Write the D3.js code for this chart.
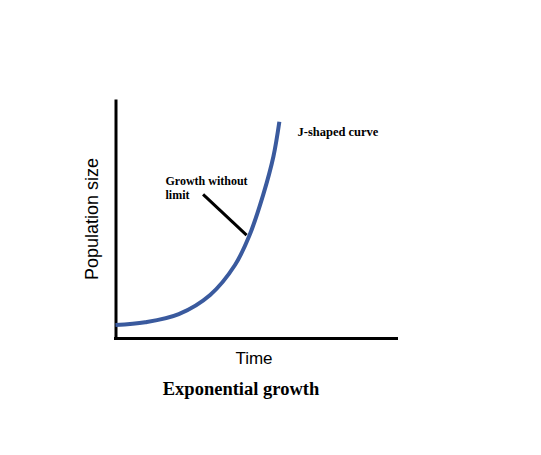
<!DOCTYPE html>
<html>
<head>
<meta charset="utf-8">
<script src="https://cdn.jsdelivr.net/npm/d3@7"></script>
<style>
  body { margin: 0; background: #fff; }
</style>
</head>
<body>
<div id="chart"></div>
<script>
// values (time and population in arbitrary units, 0-100)
const time = [0, 10.5, 22.4, 33.5, 42.3, 47.4, 52.3, 55.9, 58.0]
const population = [5.6, 6.8, 10.2, 18.2, 30.7, 43.0, 60.1, 76.0, 90.5]
// pointer from the label to the curve
const pointerTime = [31.0, 46.4]
const pointerPopulation = [60.2, 43.2]

const width = 541
const height = 455

const svg = d3.select("#chart").append("svg")
  .attr("width", width)
  .attr("height", height)

svg.append("rect")
  .attr("width", width)
  .attr("height", height)
  .attr("fill", "#fff")

const x = d3.scaleLinear().domain([0, 100]).range([115.5, 398])
const y = d3.scaleLinear().domain([0, 100]).range([338.5, 99])

// axes without ticks, only the thick domain lines
const xAxis = svg.append("g")
  .attr("transform", "translate(0," + y(0) + ")")
  .call(d3.axisBottom(x).tickValues([]).tickSizeOuter(0))
xAxis.select(".domain")
  .attr("stroke", "#000")
  .attr("stroke-width", 3)
  .attr("d", "M" + (x(0) - 1.5) + ",0H" + x(100))

const yAxis = svg.append("g")
  .attr("transform", "translate(" + x(0) + ",0)")
  .call(d3.axisLeft(y).tickValues([]).tickSizeOuter(0))
yAxis.select(".domain")
  .attr("stroke", "#000")
  .attr("stroke-width", 3)

const points = time.map((t, i) => [t, population[i]])

const line = d3.line()
  .x(d => x(d[0]))
  .y(d => y(d[1]))
  .curve(d3.curveCatmullRom)

svg.append("path")
  .datum(points)
  .attr("d", line)
  .attr("fill", "none")
  .attr("stroke", "#3a5a9e")
  .attr("stroke-width", 4)

svg.append("line")
  .attr("x1", x(pointerTime[0]))
  .attr("y1", y(pointerPopulation[0]))
  .attr("x2", x(pointerTime[1]))
  .attr("y2", y(pointerPopulation[1]))
  .attr("stroke", "#000")
  .attr("stroke-width", 3)

const serif = "'Liberation Serif', 'Times New Roman', serif"
const sans = "'Liberation Sans', Arial, sans-serif"

svg.append("text")
  .attr("x", 297.5)
  .attr("y", 136)
  .attr("font-family", serif)
  .attr("font-weight", "bold")
  .attr("font-size", 12.5)
  .text("J-shaped curve")

const note = svg.append("text")
  .attr("x", 165.5)
  .attr("y", 185)
  .attr("font-family", serif)
  .attr("font-weight", "bold")
  .attr("font-size", 12)
note.append("tspan").attr("x", 165.5).text("Growth without")
note.append("tspan").attr("x", 165.5).attr("dy", 14.3).text("limit")

svg.append("text")
  .attr("transform", "translate(98,219) rotate(-90)")
  .attr("text-anchor", "middle")
  .attr("font-family", sans)
  .attr("font-size", 18)
  .text("Population size")

svg.append("text")
  .attr("x", 254)
  .attr("y", 364)
  .attr("text-anchor", "middle")
  .attr("font-family", sans)
  .attr("font-size", 17)
  .text("Time")

svg.append("text")
  .attr("x", 241)
  .attr("y", 395)
  .attr("text-anchor", "middle")
  .attr("font-family", serif)
  .attr("font-weight", "bold")
  .attr("font-size", 18.5)
  .text("Exponential growth")
</script>
</body>
</html>
